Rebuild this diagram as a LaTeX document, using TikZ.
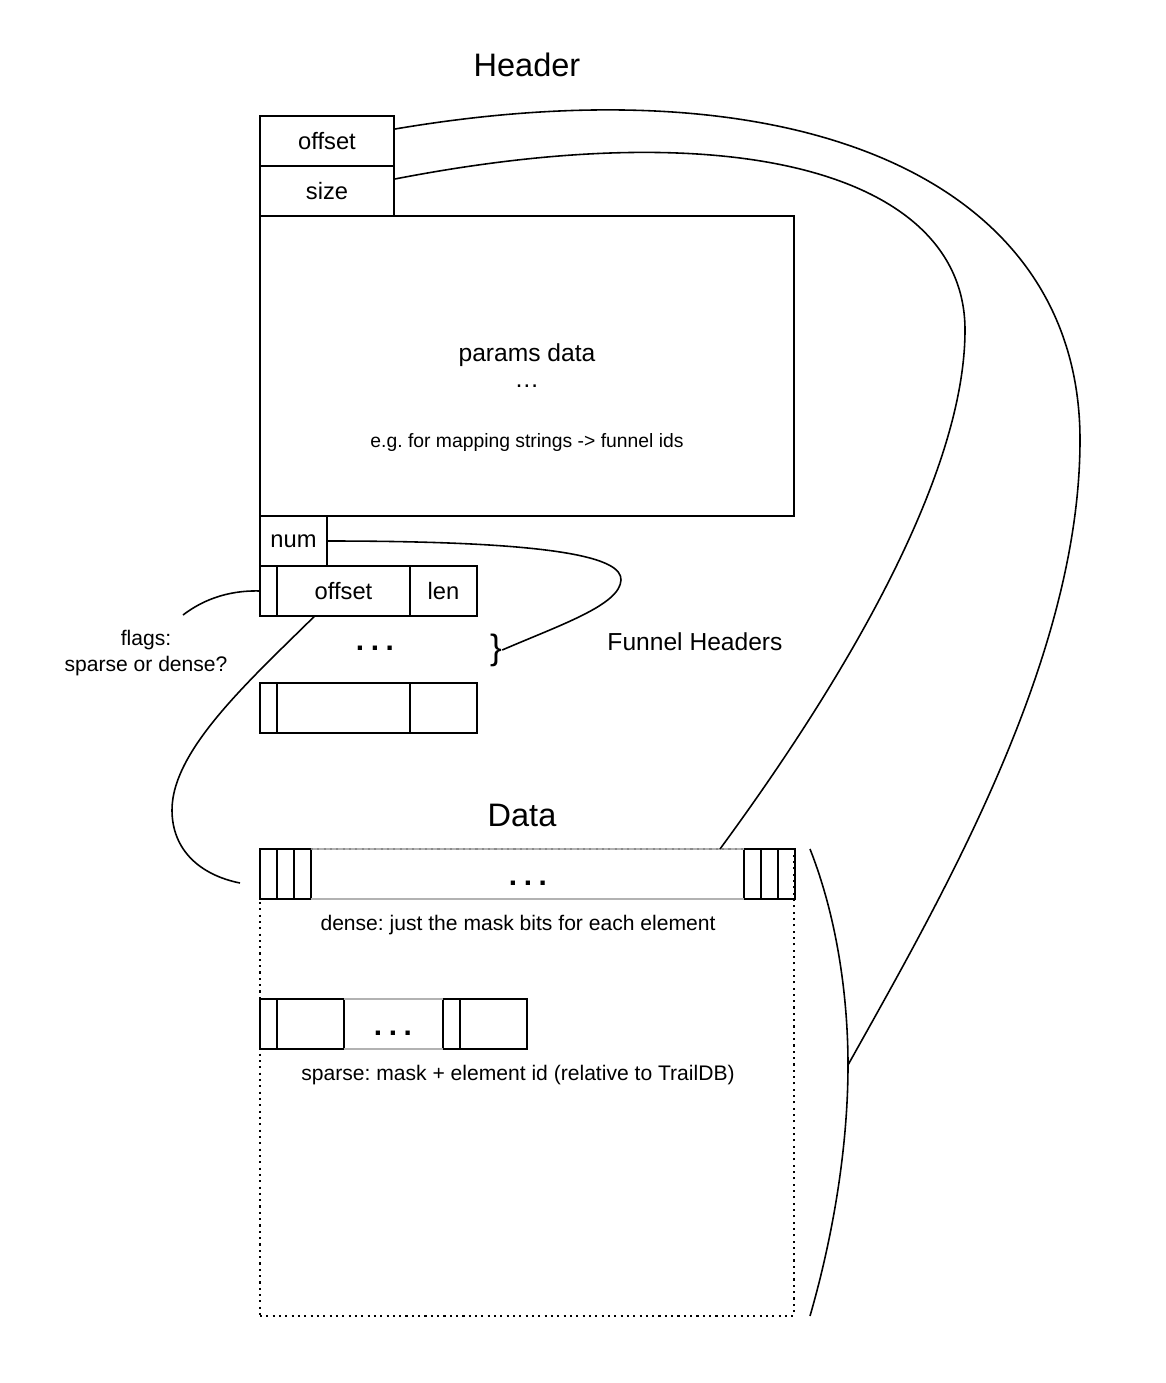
\documentclass[tikz,border=0pt]{standalone}
\usepackage{fontspec}
\setmainfont{Liberation Sans}
\usetikzlibrary{positioning}
\frenchspacing
\tikzset{
  cell/.style={draw,line width=0.9pt,minimum height=1cm,inner sep=0pt,outer sep=0pt,
    font=\fontsize{13.5}{17}\selectfont},
  link/.style={line width=0.9pt},
  gapline/.style={draw=black!30,line width=0.9pt},
  bigdots/.style={font=\fontsize{17}{20}\selectfont\bfseries},
  note/.style={font=\fontsize{12}{14.5}\selectfont},
  frame/.style={draw,line width=0.9pt,dash pattern=on 1.2pt off 2.4pt}
}
\newcommand{\spdots}{.\hspace{0.22em}.\hspace{0.22em}.}
\begin{document}
\begin{tikzpicture}[x=0.02cm,y=-0.02cm,font=\fontsize{14}{17}\selectfont]
\useasboundingbox (0,0) rectangle (1166,1383);

\node[font=\fontsize{18.5}{22}\selectfont] (htitle) at (527,65) {Header};
\node[cell,minimum width=2.68cm,anchor=north west] (hoffset) at (260,116) {offset};
\node[cell,minimum width=2.68cm,below=0pt of hoffset] (hsize) {size};
\node[cell,minimum width=10.68cm,minimum height=6cm,anchor=north west] (params) at (260,216) {};
\node (ptitle) at (527,355) {params data};
\node[inner sep=0pt] (pdots) at (527,386) {\dots};
\node[font=\fontsize{11}{13}\selectfont] (pnote) at (527,442) {e.g. for mapping strings -> funnel ids};

% funnel headers
\node[cell,minimum width=1.34cm,anchor=north west] (num) at (260,516) {num};
\node[cell,minimum width=0.34cm,anchor=north west] (flag1) at (260,566) {};
\node[cell,minimum width=2.66cm,right=0pt of flag1] (foff1) {offset};
\node[cell,minimum width=1.34cm,right=0pt of foff1] (flen1) {len};
\node[bigdots] (fdots) at (375,648) {\spdots};
\node[cell,minimum width=0.34cm,anchor=north west] (flag2) at (260,683) {};
\node[cell,minimum width=2.66cm,right=0pt of flag2] (foff2) {};
\node[cell,minimum width=1.34cm,right=0pt of foff2] (flen2) {};
\node[font=\fontsize{20}{24}\selectfont,inner sep=0pt] (brace) at (496,650) {\}};
\node (fhead) at (695,642) {Funnel Headers};
\node[note,align=center] (flags) at (146,653) {flags:\\sparse or dense?};
\coordinate (flagend) at (183,615);

% data
\node[font=\fontsize{18.5}{22}\selectfont] (dtitle) at (522,815) {Data};
\node[frame,minimum width=10.68cm,minimum height=9.34cm,inner sep=0pt,outer sep=0pt,anchor=north west] (data) at (260,849) {};
\node[cell,minimum width=0.34cm,anchor=north west] (d1) at (260,849) {};
\node[cell,minimum width=0.34cm,right=0pt of d1] (d2) {};
\node[cell,minimum width=0.34cm,right=0pt of d2] (d3) {};
\node[cell,minimum width=0.34cm,anchor=north west] (e1) at (744,849) {};
\node[cell,minimum width=0.34cm,right=0pt of e1] (e2) {};
\node[cell,minimum width=0.34cm,right=0pt of e2] (e3) {};
\draw[gapline] (d3.south east) -- (e1.south west);
\draw[gapline] (d3.north east) -- (e1.north west);
\draw[frame,draw=black!45] (d3.north east) -- (e1.north west);
\node[bigdots] (ddots) at (528,883) {\spdots};
\node[note] (dnote) at (518,925) {dense: just the mask bits for each element};

\node[cell,minimum width=0.34cm,anchor=north west] (s1) at (260,999) {};
\node[cell,minimum width=1.34cm,right=0pt of s1] (s2) {};
\node[cell,minimum width=0.34cm,anchor=north west] (t1) at (443,999) {};
\node[cell,minimum width=1.34cm,right=0pt of t1] (t2) {};
\draw[gapline] (s2.north east) -- (t1.north west);
\draw[gapline] (s2.south east) -- (t1.south west);
\node[bigdots] (sdots) at (393,1033) {\spdots};
\node[note] (snote) at (518,1075) {sparse: mask + element id (relative to TrailDB)};

\coordinate (dtop) at (810,849);
\coordinate (dbot) at (810,1316);
\coordinate (arcpt) at (848,1065);
\coordinate (dlink) at (720,849);
\coordinate (dleft) at (240,883);
\draw[link] (dtop) .. controls (838,920) and (848,1000) .. (arcpt)
  .. controls (848,1150) and (832,1240) .. (dbot);

\draw[link] (hoffset.10) .. controls (800,60) and (1080,180) .. (1080,440)
  .. controls (1080,660) and (940,900) .. (arcpt);
\draw[link] (hsize.10) .. controls (750,110) and (965,180) .. (965,330)
  .. controls (965,500) and (800,740) .. (dlink);
\draw[link] (num.east) .. controls (560,541) and (622,558) .. (621,580)
  .. controls (620,605) and (560,625) .. (brace.east);
\draw[link] (flag1.west) .. controls (225,590) and (200,602) .. (flagend);
\draw[link] (foff1.221) .. controls (250,680) and (172,750) .. (172,810)
  .. controls (172,850) and (200,875) .. (dleft);
\end{tikzpicture}
\end{document}
